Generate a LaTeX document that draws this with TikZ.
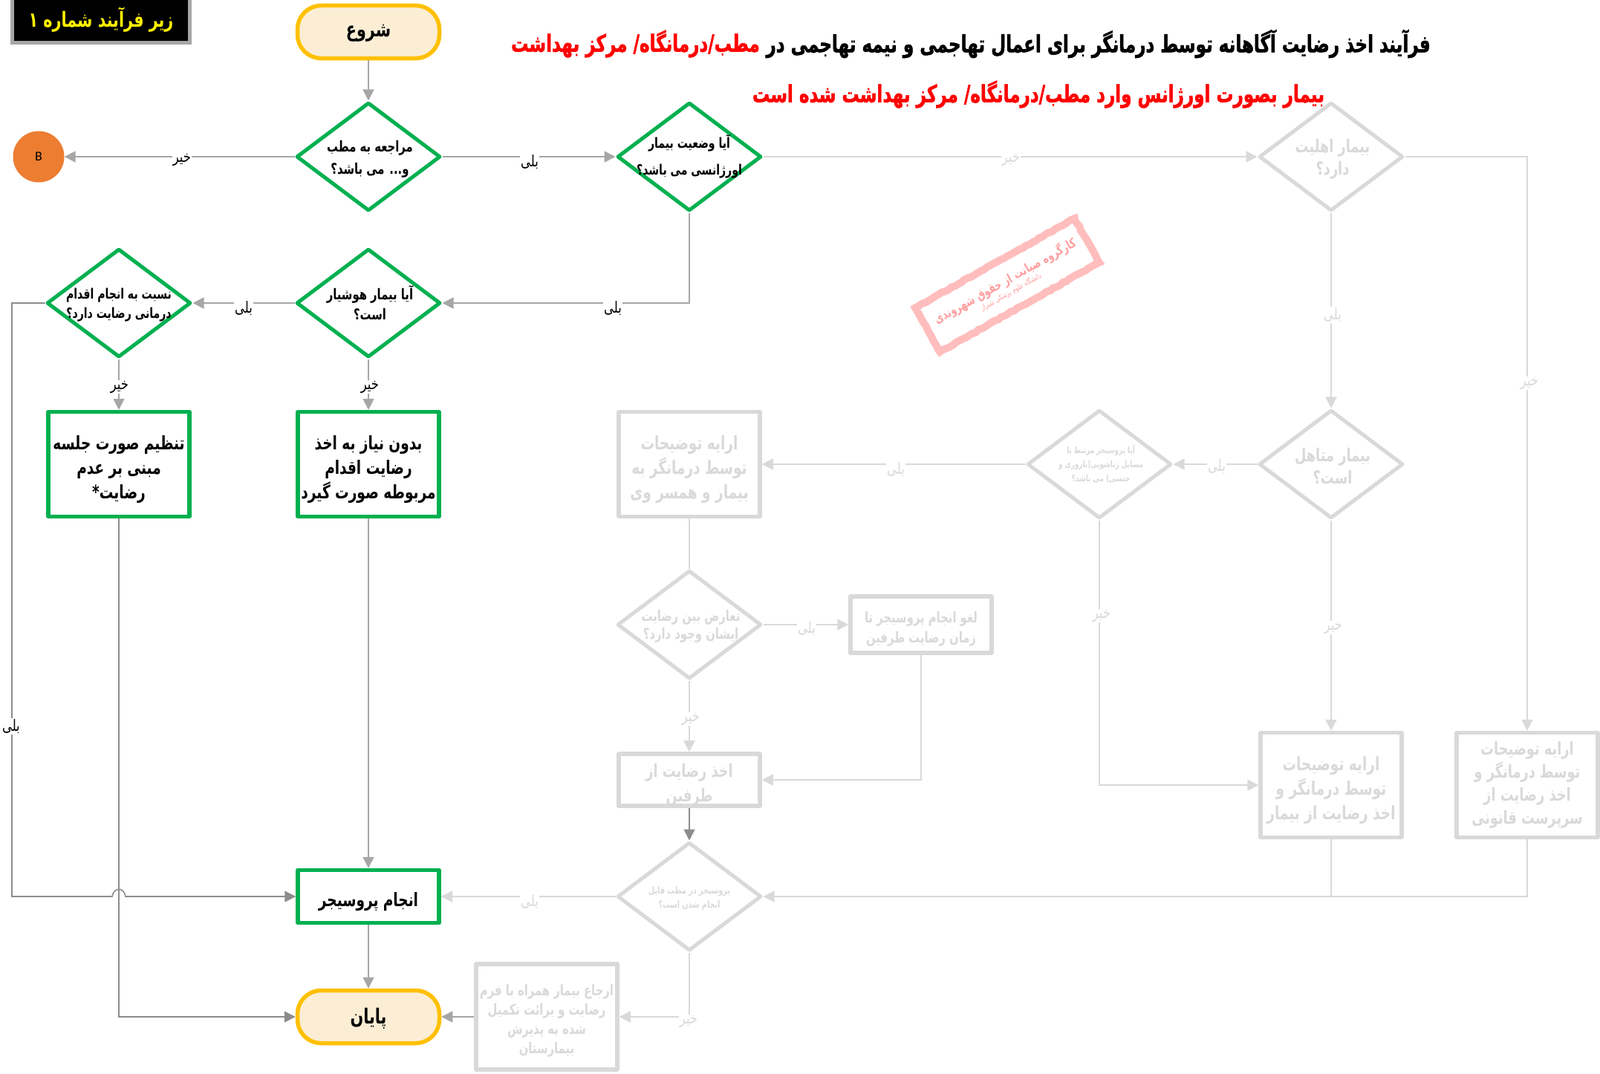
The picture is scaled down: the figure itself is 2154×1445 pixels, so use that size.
\documentclass[tikz,border=0pt]{standalone}
\usepackage{fontspec}
\usetikzlibrary{shapes.geometric,arrows.meta,decorations.pathmorphing}
\TeXXeTstate=1
\newfontfamily\fab[Script=Arabic,FakeStretch=0.74]{DejaVu Sans Bold}
\newfontfamily\fat[Script=Arabic,FakeStretch=0.72,FakeBold=1.5]{DejaVu Sans Bold}
\newfontfamily\far[Script=Arabic,FakeStretch=0.78]{DejaVu Sans}
\newfontfamily\latf{Carlito}
\newcommand\rl[1]{\beginR #1\endR}
\newcommand\rf[1]{\rule{0pt}{1.3em}\beginR #1\endR}
\newcommand\fs[2]{\fontsize{#1}{#2}\selectfont}
\definecolor{grn}{HTML}{00B050}
\definecolor{yel}{HTML}{FFC000}
\definecolor{crm}{HTML}{FBEED5}
\definecolor{fad}{HTML}{D9D9D9}
\definecolor{act}{HTML}{A6A6A6}
\definecolor{dk}{HTML}{8C8C8C}
\definecolor{pnk}{HTML}{FFBDBD}
\definecolor{pnt}{HTML}{FF9E9E}
\definecolor{org}{HTML}{ED7D31}
\tikzset{
  box/.style={rectangle,line width=5.5pt,minimum width=190pt,inner sep=0pt,align=center,fill=white,line join=round,font=\fab\fs{25}{33}},
  dia/.style={diamond,line width=5pt,minimum width=194pt,minimum height=146pt,inner sep=0pt,fill=white,line join=round},
  on/.style={draw=grn,text=black},
  off/.style={draw=fad,text=fad},
  term/.style={rectangle,rounded corners=32pt,draw=yel,fill=crm,line width=5.5pt,minimum width=191pt,minimum height=71pt,inner sep=0pt,font=\fab\fs{28}{34}},
  dtxt/.style 2 args={align=center,inner sep=0pt,font=\fab\fs{#1}{#2}},
  lon/.style={fill=white,inner sep=1pt,text=black,font=\far\fs{21}{24}},
  loff/.style={fill=white,inner sep=1pt,text=fad,font=\far\fs{21}{24}},
  wa/.style={draw=act,line width=1.8pt,-{Triangle[length=15pt,width=15pt,fill=act]}},
  wf/.style={draw=fad,line width=2pt,-{Triangle[length=15pt,width=15pt,fill=fad]}},
  wd/.style={draw=dk,line width=1.6pt,-{Triangle[length=15pt,width=15pt,fill=dk]}},
  pf/.style={draw=fad,line width=2pt},
}
\begin{document}
\begin{tikzpicture}[x=1pt,y=-1pt]
\useasboundingbox (0,0) rectangle (2154,1445);
% header
\node[rectangle,fill=black,draw=act,line width=5pt,minimum width=239pt,minimum height=61pt,text=yellow,font=\fab\fs{28}{30},inner sep=0pt] (hdr) at (136,27) {\rl{زیر فرآیند شماره ۱}};
% titles
\node[inner sep=0pt,anchor=east,font=\fat\fs{32}{36}] (t1) at (1926,59) {\rl{فرآیند اخذ رضایت آگاهانه توسط درمانگر برای اعمال تهاجمی و نیمه تهاجمی در}};
\node[inner sep=0pt,anchor=east,text=red,font=\fat\fs{32}{36}] (t1r) at (1023,59) {\rl{مطب/درمانگاه/ مرکز بهداشت}};
\node[inner sep=0pt,text=red,font=\fat\fs{32}{36}] (t2) at (1398,127) {\rl{بیمار بصورت اورژانس وارد مطب/درمانگاه/ مرکز بهداشت شده است}};
% stamp
\node[rectangle,draw=pnk,line width=10pt,rotate=29.3,minimum width=246pt,minimum height=68pt,inner sep=0pt,align=center,text=pnt,decorate,decoration={random steps,segment length=5pt,amplitude=0.8pt}] (st) at (1356,384)
 {{\fab\fs{17}{24}\rl{کارگروه صیانت از حقوق شهروندی}}\\{\far\fs{10}{12}\rl{دانشگاه علوم پزشکی شیراز}}};
% nodes
\node[term] (start) at (496,43) {\raisebox{-7pt}[0pt][0pt]{\rl{شروع}}};
\node[term] (end) at (496,1369) {\raisebox{-9pt}[0pt][0pt]{\rl{پایان}}};
\node[circle,fill=org,minimum size=69pt,inner sep=0pt,font=\latf\fs{18}{20}] (b) at (52,211) {B};
\node[dia,on] (d1) at (496,211) {};
\node[dia,on] (d2) at (928,211) {};
\node[dia,on] (d3) at (496,408) {};
\node[dia,on] (d4) at (160,408) {};
\node[dia,off] (d5) at (928,841) {};
\node[dia,off] (d6) at (1480,625) {};
\node[dia,off] (d7) at (1792,211) {};
\node[dia,off] (d8) at (1792,625) {};
\node[dia,off] (d9) at (928,1207) {};
\node[box,on,minimum height=141pt] (r1) at (160,625) {\rf{تنظیم صورت جلسه}\\\rl{مبنی بر عدم}\\\rl{رضایت*}};
\node[box,on,minimum height=141pt] (r2) at (496,625) {\rf{بدون نیاز به اخذ}\\\rl{رضایت اقدام}\\\rl{مربوطه صورت گیرد}};
\node[box,off,minimum height=141pt] (r3) at (928,625) {\rf{ارایه توضیحات}\\\rl{توسط درمانگر به}\\\rl{بیمار و همسر وی}};
\node[box,off,minimum height=76pt,font=\fab\fs{20}{27}] (r4) at (1240,841) {\rf{لغو انجام پروسیجر تا}\\\rl{زمان رضایت طرفین}};
\node[box,off,minimum height=70pt,font=\fab\fs{24}{33}] (r5) at (928,1050) {\rf{اخذ رضایت از}\\\rl{طرفین}};
\node[box,off,minimum height=141pt] (r6) at (1792,1057) {\rf{ارایه توضیحات}\\\rl{توسط درمانگر و}\\\rl{اخذ رضایت از بیمار}};
\node[box,off,minimum height=141pt,font=\fab\fs{24}{31}] (r7) at (2056,1057) {\rl{ارایه توضیحات}\\\rl{توسط درمانگر و}\\\rl{اخذ رضایت از}\\\rl{سرپرست قانونی}};
\node[box,on,minimum height=71pt] (r8) at (496,1207) {\rf{انجام پروسیجر}};
\node[box,off,minimum height=142pt,font=\fab\fs{20}{26}] (r9) at (736,1369) {\rf{ارجاع بیمار همراه با فرم}\\\rl{رضایت و برائت تکمیل}\\\rl{شده به پذیرش}\\\rl{بیمارستان}};
% diamond texts
\node[dtxt={20}{30},text=black] (x1) at (498,214) {\rl{مراجعه به مطب}\\\rl{و...  می باشد؟}};
\node[dtxt={19}{36},text=black] (x2) at (928,211) {\rl{آیا وضعیت بیمار}\\\rl{اورژانسی می باشد؟}};
\node[dtxt={20}{27},text=black] (x3) at (498,408) {\rl{آیا بیمار هوشیار}\\\rl{است؟}};
\node[dtxt={19}{26},text=black] (x4) at (160,411) {\rl{نسبت به انجام اقدام}\\\rl{درمانی رضایت دارد؟}};
\node[dtxt={20}{24},text=fad] (x5) at (930,843) {\rl{تعارض بین رضایت}\\\rl{ایشان وجود دارد؟}};
\node[dtxt={12}{19},text=fad] (x6) at (1482,625) {\rl{آیا پروسیجر مرتبط با}\\\rl{مسایل زناشویی(باروری و}\\\rl{جنسی) می باشد؟}};
\node[dtxt={24}{30},text=fad] (x7) at (1794,214) {\rl{بیمار اهلیت}\\\rl{دارد؟}};
\node[dtxt={24}{30},text=fad] (x8) at (1794,628) {\rl{بیمار متاهل}\\\rl{است؟}};
\node[dtxt={13}{19},text=fad] (x9) at (928,1210) {\rl{پروسیجر در مطب قابل}\\\rl{انجام شدن است؟}};
% helper points
\coordinate (ll) at (16,408);
\coordinate (lb) at (16,1207);
\coordinate (j1) at (151,1207);
\coordinate (j2) at (169,1207);
% active connectors
\draw[wa] (start) -- (d1);
\draw[wa] (d1) -- (b);
\draw[wa] (d1) -- (d2);
\draw[wa] (d2.south) |- (d3.east);
\draw[wa] (d3) -- (d4);
\draw[wa] (d3) -- (r2);
\draw[wa] (d4) -- (r1);
\draw[wa] (r2) -- (r8);
\draw[wa] (r8) -- (end);
\draw[wd] (d4.west) -- (ll) -- (lb) -- (j1) .. controls (153,1194) and (167,1194) .. (j2) -- (r8.west);
\draw[wd] (r1.south) |- (end.west);
\draw[wd] (r5) -- (d9);
\draw[wa] (r9) -- (end);
% faded connectors
\draw[wf] (d2) -- (d7);
\draw[wf] (d7.east) -| (r7.north);
\draw[wf] (d7) -- (d8);
\draw[wf] (d8) -- (d6);
\draw[wf] (d8) -- (r6);
\draw[wf] (d6) -- (r3);
\draw[wf] (d6.south) |- (r6.west);
\draw[pf] (r3) -- (d5);
\draw[wf] (d5) -- (r4);
\draw[wf] (r4.south) |- (r5.east);
\draw[wf] (d5) -- (r5);
\draw[wf] (r7.south) |- (d9.east);
\draw[pf] (r6.south) -- (r6.south |- d9.east);
\draw[wf] (d9) -- (r8);
\draw[wf] (d9.south) |- (r9.east);
% connector labels
\node[lon] (a1) at (245,215) {\rl{خیر}};
\node[lon] (a2) at (713,218) {\rl{بلی}};
\node[lon] (a3) at (825,415) {\rl{بلی}};
\node[lon] (a4) at (328,415) {\rl{بلی}};
\node[lon] (a5) at (498,521) {\rl{خیر}};
\node[lon] (a6) at (161,521) {\rl{خیر}};
\node[lon] (a7) at (15,978) {\rl{بلی}};
\node[loff] (f1) at (1361,215) {\rl{خیر}};
\node[loff] (f2) at (1794,424) {\rl{بلی}};
\node[loff] (f3) at (2059,516) {\rl{خیر}};
\node[loff] (f4) at (1638,628) {\rl{بلی}};
\node[loff] (f5) at (1795,845) {\rl{خیر}};
\node[loff] (f6) at (1206,632) {\rl{بلی}};
\node[loff] (f7) at (1483,829) {\rl{خیر}};
\node[loff] (f8) at (1086,846) {\rl{بلی}};
\node[loff] (f9) at (930,968) {\rl{خیر}};
\node[loff] (f10) at (713,1214) {\rl{بلی}};
\node[loff] (f11) at (927,1375) {\rl{خیر}};
\end{tikzpicture}
\end{document}
